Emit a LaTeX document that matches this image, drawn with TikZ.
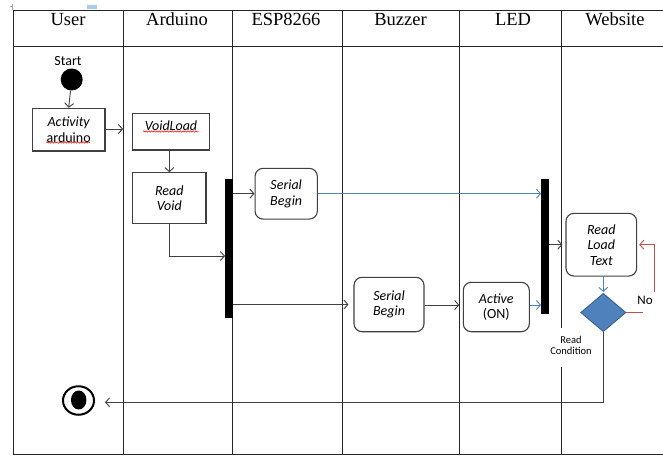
\documentclass[tikz,border=0pt]{standalone}
\usepackage{fontspec}
\setmainfont{Liberation Serif}
\newfontfamily\bodyf{Carlito}
\usetikzlibrary{arrows.meta,shapes.geometric,decorations.pathmorphing}
\definecolor{wblue}{HTML}{4F81BD}
\definecolor{wbluedark}{HTML}{385D8A}
\definecolor{wred}{HTML}{C0504D}
\definecolor{boxline}{HTML}{404040}
\definecolor{selblue}{HTML}{A9CBF2}
\begin{document}
\begin{tikzpicture}[x=1pt,y=-1pt,
  tbl/.style={draw=black!85,line width=1pt},
  hdr/.style={font=\fontsize{18.5}{20}\selectfont, anchor=base, inner sep=0},
  txt/.style={font=\bodyf\fontsize{14}{15.5}\selectfont, align=center, inner sep=0},
  boxr/.style={draw=boxline, line width=1.1pt, inner sep=0, txt},
  rbox/.style={boxr, rounded corners=8pt},
  bar/.style={fill=black, inner sep=0, minimum width=7.5pt},
  arr/.style={draw=boxline, line width=0.9pt, -{Straight Barb[length=4pt,width=9pt,line width=0.9pt]}},
  barr/.style={arr, draw=wblue},
  rarr/.style={arr, draw=wred},
  squig/.style={draw=red, line width=0.5pt, decorate, decoration={snake, amplitude=0.7pt, segment length=2.6pt}}
]
\useasboundingbox (0,0) rectangle (663,455);
\fill[white] (0,0) rectangle (663,455);

% Word artifacts
\fill[selblue] (87,4.5) rectangle (96.5,8.5);
\draw[gray!70, line width=0.6pt] (9.5,6.5) -- (12.5,6.5) (12.5,4) -- (12.5,10);

% table
\coordinate (tl) at (13,10);
\coordinate (tr) at (663,10);
\coordinate (hl) at (13,46);
\coordinate (hr) at (663,46);
\coordinate (bl) at (13,454);
\coordinate (br) at (663,454);
\draw[tbl] (tl) -- (tr);
\draw[tbl] (hl) -- (hr);
\draw[tbl] (bl) -- (br);
\draw[tbl] (tl) -- (bl);
\foreach \x in {123,232.5,342,459}{
  \draw[tbl] (\x,10) -- (\x,454);
}
\draw[tbl] (561,10) -- (561,328);
\draw[tbl] (561,366.7) -- (561,454);

% headers
\node[hdr] (hUser) at (68,25) {User};
\node[hdr] (hArd) at (177,25) {Arduino};
\node[hdr] (hEsp) at (286,25) {ESP8266};
\node[hdr] (hBuz) at (400.5,25) {Buzzer};
\node[hdr] (hLed) at (513,25) {LED};
\node[hdr] (hWeb) at (615,25) {Website};

% User lane
\node[txt] (startlbl) at (68,60.7) {Start};
\node[circle, fill=black, inner sep=0, minimum size=22pt] (start) at (71.7,79.5) {};
\node[boxr, minimum width=72.7pt, minimum height=42.7pt] (act) at (68.65,129.65) {\itshape Activity\\arduino};
\coordinate (sq1a) at (46,142.5);
\coordinate (sq1b) at (90,142.5);
\draw[squig] (sq1a) -- (sq1b);
\draw[arr] (start) -- (act.north);

% Arduino lane
\node[boxr, minimum width=77pt, minimum height=36.7pt] (vl) at (171.2,131.65) {};
\node[txt] (vlt) at (171,125.7) {\itshape VoidLoad};
\coordinate (sq2a) at (143,131.5);
\coordinate (sq2b) at (198.5,131.5);
\draw[squig] (sq2a) -- (sq2b);
\coordinate (ardin) at (123,129);
\draw[arr] (act.east |- ardin) -- (ardin);
\node[boxr, minimum width=73.3pt, minimum height=50.6pt] (rv) at (169.35,198) {\itshape Read\\\itshape Void};
\draw[arr] (rv.north |- vl.south) -- (rv.north);

% fork bars
\node[bar, minimum height=139pt] (bar1) at (228.75,248.5) {};
\node[bar, minimum height=135pt] (bar2) at (545,246.5) {};
\coordinate (f1in) at (225,256);
\draw[arr] (rv.south) |- (f1in);

% ESP8266
\node[rbox, minimum width=62.3pt, minimum height=50.7pt] (sb1) at (286.2,193.7) {\itshape Serial\\\itshape Begin};
\draw[arr] (bar1.east |- sb1.west) -- (sb1.west);
\draw[barr] (sb1.east) -- (bar2.west |- sb1.east);

% Buzzer
\node[rbox, minimum width=70pt, minimum height=54.4pt] (sb2) at (389,304.5) {\itshape Serial\\\itshape Begin};
\draw[arr, shorten >=5pt] (bar1.east |- sb2.west) -- (sb2.west);

% LED
\node[rbox, minimum width=66pt, minimum height=49.4pt] (led) at (496.3,307) {\itshape Active\\(ON)};
\coordinate (ledin) at (463.3,305);
\draw[arr, shorten >=4pt] (sb2.east |- ledin) -- (ledin);
\draw[barr] (led.east |- ledin) -- (bar2.west |- ledin);

% Website
\node[rbox, minimum width=70.7pt, minimum height=62.7pt] (rlt) at (601.3,244.7) {\itshape Read\\\itshape Load\\\itshape Text};
\draw[arr, shorten >=3pt] (bar2.east |- rlt.west) -- (rlt.west);
\node[diamond, fill=wblue, draw=wbluedark, line width=0.8pt, inner sep=0, minimum width=45.3pt, minimum height=38.4pt] (dia) at (603.3,312.5) {};
\draw[barr, shorten >=1pt] (dia.north |- rlt.south) -- (dia.north);
\coordinate (no1) at (643.3,312.5);
\coordinate (no2) at (654.3,291.7);
\draw[draw=wred, line width=0.9pt] (dia.east) -- (no1);
\draw[rarr, shorten >=2pt] (no2) -- (no2 |- rlt.east) -- (rlt.east);
\node[txt, font=\bodyf\fontsize{13}{14}\selectfont] (nolbl) at (645,300.5) {No};
\node[txt, font=\bodyf\fontsize{10.5}{11}\selectfont] (rclbl) at (571,345.5) {Read\\Condition};

% end
\node[ellipse, draw=black, line width=2pt, inner sep=0, minimum width=31pt, minimum height=28.5pt] (endc) at (78.5,400.5) {};
\node[ellipse, fill=black, inner sep=0, minimum width=15.5pt, minimum height=19pt] (endi) at (78.7,400) {};
\coordinate (endin) at (105,402.3);
\draw[arr] (dia.south) |- (endin);
\end{tikzpicture}
\end{document}
